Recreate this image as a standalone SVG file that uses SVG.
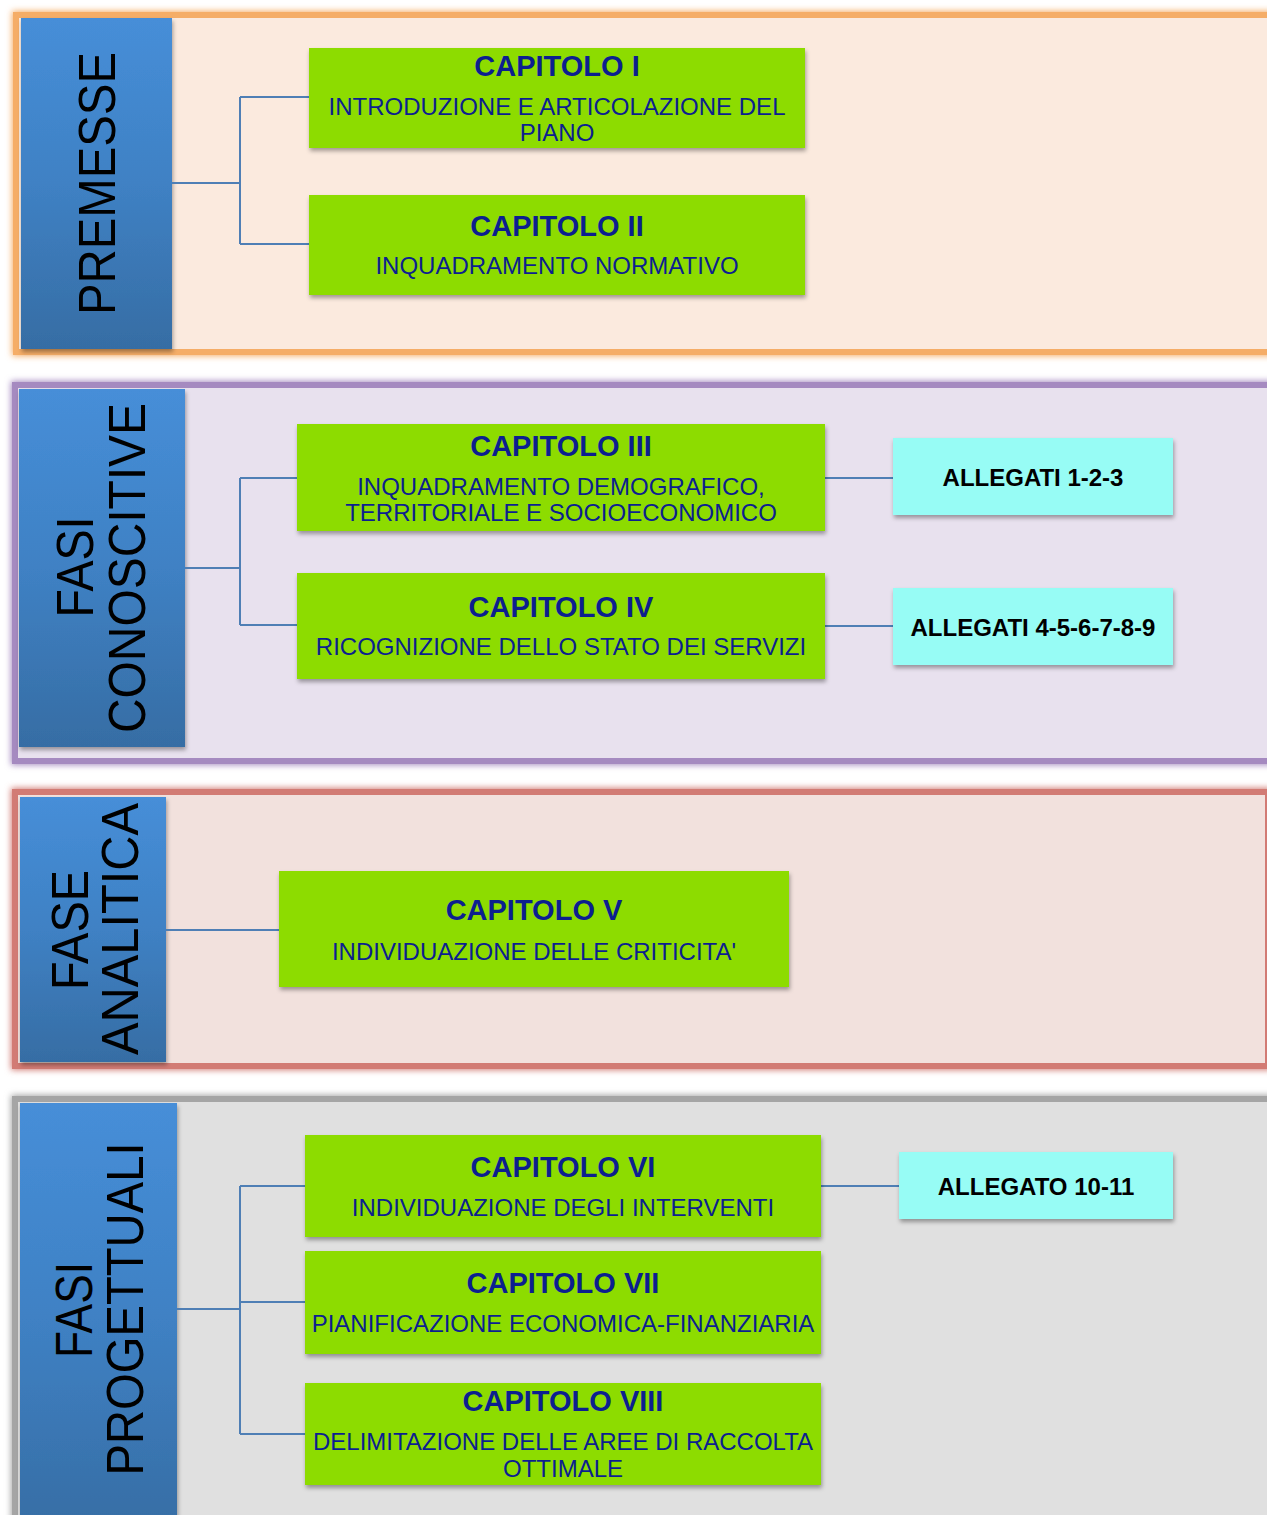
<svg xmlns="http://www.w3.org/2000/svg" width="1267" height="1515" viewBox="0 0 1267 1515">
<defs>
<linearGradient id="side" x1="0" y1="0" x2="0" y2="1">
<stop offset="0" stop-color="#468ED8"/>
<stop offset="0.5" stop-color="#3F81C4"/>
<stop offset="1" stop-color="#366DA4"/>
</linearGradient>
<filter id="glow" x="-5%" y="-10%" width="110%" height="120%">
<feGaussianBlur stdDeviation="3"/>
</filter>
<filter id="shadow" x="-5%" y="-10%" width="110%" height="130%">
<feDropShadow dx="1" dy="3" stdDeviation="2" flood-color="#000" flood-opacity="0.35"/>
</filter>
</defs>
<style>
.cap{fill:#8DDC00;filter:url(#shadow)}
.all{fill:#97FCF5;filter:url(#shadow)}
.side{fill:url(#side);filter:url(#shadow)}
.t{font-family:"Liberation Sans",Arial,sans-serif;font-size:29px;font-weight:bold;fill:#0C1F8F;text-anchor:middle}
.s{font-family:"Liberation Sans",Arial,sans-serif;font-size:24px;fill:#0C1F8F;text-anchor:middle}
.a{font-family:"Liberation Sans",Arial,sans-serif;font-size:24px;font-weight:bold;fill:#000;text-anchor:middle}
.v{font-family:"Liberation Sans",Arial,sans-serif;font-size:51px;fill:#000;text-anchor:middle}
.c{fill:none;stroke:#4F7FB5;stroke-width:2}
</style>

<g id="sec-premesse">
<rect x="16" y="15" width="1275" height="337" fill="none" stroke="#F5AD67" stroke-width="8" filter="url(#glow)"/>
<rect x="16" y="15" width="1275" height="337" fill="#FBEADE" stroke="#F5AD67" stroke-width="6"/>
<rect class="side" x="21" y="18" width="151" height="331"/>
<text class="v" transform="translate(115,183.5) rotate(-90)" textLength="263" lengthAdjust="spacingAndGlyphs">PREMESSE</text>
</g>

<g id="sec-conoscitive">
<rect x="15" y="385" width="1275" height="376" fill="none" stroke="#A58AC0" stroke-width="8" filter="url(#glow)"/>
<rect x="15" y="385" width="1275" height="376" fill="#E8E1EE" stroke="#A58AC0" stroke-width="6"/>
<rect class="side" x="19" y="389" width="166" height="358"/>
<text class="v" transform="translate(93,567) rotate(-90)" textLength="101" lengthAdjust="spacingAndGlyphs">FASI</text>
<text class="v" transform="translate(145,568) rotate(-90)" textLength="330" lengthAdjust="spacingAndGlyphs">CONOSCITIVE</text>
</g>

<g id="sec-analitica">
<rect x="15" y="792" width="1253" height="274" fill="none" stroke="#D27B74" stroke-width="8" filter="url(#glow)"/>
<rect x="15" y="792" width="1253" height="274" fill="#F2E1DD" stroke="#D27B74" stroke-width="6"/>
<rect class="side" x="20" y="797" width="146" height="265"/>
<text class="v" transform="translate(88,930) rotate(-90)" textLength="120" lengthAdjust="spacingAndGlyphs">FASE</text>
<text class="v" transform="translate(138,929) rotate(-90)" textLength="252" lengthAdjust="spacingAndGlyphs">ANALITICA</text>
</g>

<g id="sec-progettuali">
<rect x="15" y="1099" width="1275" height="440" fill="none" stroke="#A5A5A5" stroke-width="8" filter="url(#glow)"/>
<rect x="15" y="1099" width="1275" height="440" fill="#E0E0E0" stroke="#A5A5A5" stroke-width="6"/>
<rect class="side" x="20" y="1103" width="157" height="430"/>
<text class="v" transform="translate(92,1310) rotate(-90)" textLength="96" lengthAdjust="spacingAndGlyphs">FASI</text>
<text class="v" transform="translate(143,1309) rotate(-90)" textLength="333" lengthAdjust="spacingAndGlyphs">PROGETTUALI</text>
</g>

<g id="connectors">
<path class="c" d="M172,183 H240 M240,97 V244 M240,97 H309 M240,244 H309"/>
<path class="c" d="M185,568 H240 M240,478 V625 M240,478 H297 M240,625 H297"/>
<path class="c" d="M825,478 H893 M825,626 H893"/>
<path class="c" d="M166,930 H279"/>
<path class="c" d="M177,1309 H240 M240,1186 V1434 M240,1186 H305 M240,1302 H305 M240,1434 H305"/>
<path class="c" d="M821,1186 H899"/>
</g>

<g id="cap1">
<rect class="cap" x="309" y="48" width="496" height="100"/>
<text class="t" x="557" y="76">CAPITOLO I</text>
<text class="s" x="557" y="114.5">INTRODUZIONE E ARTICOLAZIONE DEL</text>
<text class="s" x="557" y="140.5">PIANO</text>
</g>
<g id="cap2">
<rect class="cap" x="309" y="195" width="496" height="100"/>
<text class="t" x="557" y="236">CAPITOLO II</text>
<text class="s" x="557" y="273.5">INQUADRAMENTO NORMATIVO</text>
</g>
<g id="cap3">
<rect class="cap" x="297" y="424" width="528" height="107"/>
<text class="t" x="561" y="456">CAPITOLO III</text>
<text class="s" x="561" y="494.5">INQUADRAMENTO DEMOGRAFICO,</text>
<text class="s" x="561" y="520.5">TERRITORIALE E SOCIOECONOMICO</text>
</g>
<g id="cap4">
<rect class="cap" x="297" y="573" width="528" height="106"/>
<text class="t" x="561" y="617">CAPITOLO IV</text>
<text class="s" x="561" y="654.5">RICOGNIZIONE DELLO STATO DEI SERVIZI</text>
</g>
<g id="all123">
<rect class="all" x="893" y="438" width="280" height="77"/>
<text class="a" x="1033" y="485.5">ALLEGATI 1-2-3</text>
</g>
<g id="all456789">
<rect class="all" x="893" y="588" width="280" height="77"/>
<text class="a" x="1033" y="635.5">ALLEGATI 4-5-6-7-8-9</text>
</g>
<g id="cap5">
<rect class="cap" x="279" y="871" width="510" height="116"/>
<text class="t" x="534" y="920">CAPITOLO V</text>
<text class="s" x="534" y="959.5">INDIVIDUAZIONE DELLE CRITICITA'</text>
</g>
<g id="cap6">
<rect class="cap" x="305" y="1135" width="516" height="102"/>
<text class="t" x="563" y="1177">CAPITOLO VI</text>
<text class="s" x="563" y="1215.5">INDIVIDUAZIONE DEGLI INTERVENTI</text>
</g>
<g id="all1011">
<rect class="all" x="899" y="1152" width="274" height="67"/>
<text class="a" x="1036" y="1194.5">ALLEGATO 10-11</text>
</g>
<g id="cap7">
<rect class="cap" x="305" y="1251" width="516" height="103"/>
<text class="t" x="563" y="1293">CAPITOLO VII</text>
<text class="s" x="563" y="1331.5">PIANIFICAZIONE ECONOMICA-FINANZIARIA</text>
</g>
<g id="cap8">
<rect class="cap" x="305" y="1383" width="516" height="102"/>
<text class="t" x="563" y="1411">CAPITOLO VIII</text>
<text class="s" x="563" y="1449.5">DELIMITAZIONE DELLE AREE DI RACCOLTA</text>
<text class="s" x="563" y="1476.5">OTTIMALE</text>
</g>
</svg>
